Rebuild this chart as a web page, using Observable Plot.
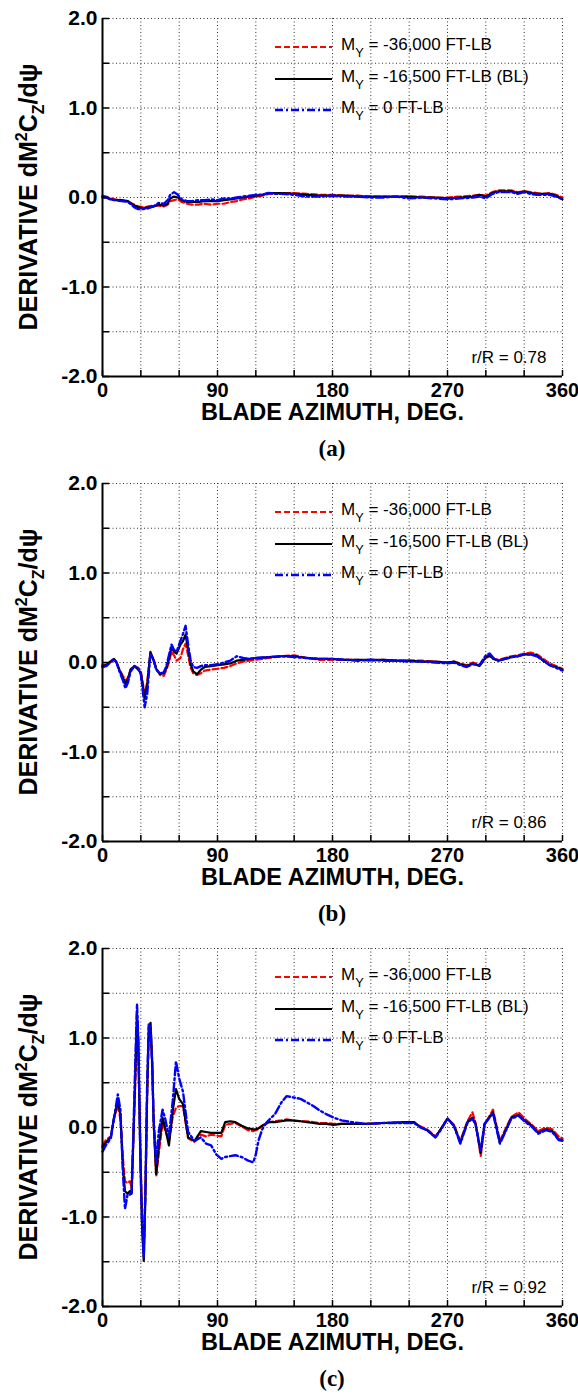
<!DOCTYPE html>
<html><head><meta charset="utf-8">
<script src="https://cdn.jsdelivr.net/npm/d3@7"></script>
<script src="https://cdn.jsdelivr.net/npm/@observablehq/plot@0.6"></script>
<style>
body{margin:0;background:#fff;}
#root{width:578px;}
.cap{width:460px;margin-left:102px;height:33px;box-sizing:border-box;padding-top:4px;line-height:32px;text-align:center;font:bold 23px "Liberation Serif","Times New Roman",serif;color:#000;}
svg{display:block}
</style></head><body><div id="root"></div>
<script>
// ---- axis ticks ----
const xGridTicks = [0,30,60,90,120,150,180,210,240,270,300,330,360];
const xLabelTicks = [0,90,180,270,360];
const yGridTicks = [-2,-1.5,-1,-0.5,0,0.5,1,1.5,2];
const yLabelTicks = [-2,-1,0,1,2];
const seriesNames = ["M_Y = -36,000 FT-LB","M_Y = -16,500 FT-LB (BL)","M_Y = 0 FT-LB"];
const xTitle = "BLADE AZIMUTH, DEG.";
const captions = ["(a)","(b)","(c)"];
const radii = ["r/R = 0.78","r/R = 0.86","r/R = 0.92"];

// ---- panel (a) r/R = 0.78 ----
const azA = [0,3,6,10,15,20,25,28,32,36,40,44,48,51,53,56,59,62,66,70,75,80,85,90,95,100,105,110,115,120,125,130,135,140,150,160,170,180,190,200,210,220,230,240,250,260,270,280,290,295,300,305,310,315,320,325,330,335,340,345,350,355,360];
const aRed = [0.02,0.01,-0.01,-0.02,-0.03,-0.05,-0.08,-0.10,-0.11,-0.10,-0.09,-0.09,-0.10,-0.08,-0.04,-0.03,-0.02,-0.05,-0.07,-0.08,-0.08,-0.07,-0.08,-0.07,-0.07,-0.05,-0.04,-0.02,-0.01,0.01,0.02,0.04,0.05,0.05,0.05,0.04,0.03,0.03,0.02,0.02,0.01,0.01,0.01,0.01,0.01,0.0,0.0,0.01,0.02,0.03,0.02,0.06,0.08,0.08,0.08,0.06,0.07,0.06,0.05,0.04,0.05,0.03,0.0];
const aBlack = [0.01,0.0,-0.02,-0.03,-0.03,-0.04,-0.09,-0.11,-0.12,-0.11,-0.10,-0.08,-0.09,-0.07,-0.01,0.01,0.0,-0.03,-0.05,-0.05,-0.05,-0.04,-0.04,-0.04,-0.03,-0.02,-0.01,0.0,0.01,0.02,0.03,0.05,0.05,0.05,0.04,0.03,0.02,0.02,0.02,0.01,0.01,0.01,0.01,0.01,0.0,0.0,-0.01,0.0,0.01,0.03,0.01,0.05,0.07,0.07,0.07,0.05,0.07,0.05,0.04,0.04,0.04,0.02,-0.02];
const aBlue = [0.0,0.0,-0.02,-0.03,-0.04,-0.05,-0.11,-0.13,-0.13,-0.12,-0.10,-0.06,-0.07,-0.03,0.03,0.06,0.03,-0.02,-0.04,-0.04,-0.03,-0.03,-0.02,-0.03,-0.01,-0.01,0.0,0.01,0.02,0.03,0.03,0.05,0.04,0.04,0.03,0.01,0.01,0.02,0.01,0.01,0.0,0.0,0.01,-0.01,0.0,-0.01,-0.02,-0.01,0.0,0.01,-0.01,0.04,0.06,0.06,0.06,0.04,0.06,0.04,0.03,0.03,0.03,0.01,-0.02];

// ---- panel (b) r/R = 0.86 ----
const azB = [0,3,6,9,11,13,16,18,20,22,25,28,30,33,35,37.5,40,42,45,48,50,52,54,56,58,61,63,65,67,69,71,74,77,80,85,90,95,100,105,110,115,120,130,140,150,160,170,180,190,200,210,220,230,240,250,260,270,275,280,285,290,295,300,303,306,310,315,320,325,330,335,340,345,350,355,360];
const bRed = [-0.03,-0.02,0.0,0.03,0.0,-0.07,-0.15,-0.20,-0.17,-0.08,-0.04,-0.06,-0.10,-0.35,-0.22,0.10,0.03,-0.06,-0.14,-0.15,-0.08,0.0,0.12,0.08,0.02,0.05,0.15,0.21,0.08,-0.06,-0.12,-0.14,-0.12,-0.09,-0.08,-0.07,-0.06,-0.04,-0.01,0.01,0.02,0.03,0.05,0.07,0.08,0.05,0.03,0.03,0.03,0.03,0.02,0.03,0.02,0.02,0.02,0.01,0.0,0.01,-0.01,-0.03,0.0,-0.03,0.05,0.07,0.04,0.03,0.05,0.07,0.08,0.10,0.11,0.09,0.04,-0.01,-0.04,-0.07];
const bBlack = [-0.04,-0.03,0.01,0.04,0.0,-0.08,-0.17,-0.24,-0.18,-0.08,-0.04,-0.08,-0.12,-0.40,-0.25,0.12,0.02,-0.07,-0.13,-0.12,-0.06,0.04,0.17,0.12,0.10,0.20,0.24,0.31,0.15,-0.02,-0.10,-0.13,-0.08,-0.05,-0.04,-0.03,-0.02,-0.01,0.02,0.03,0.04,0.05,0.06,0.07,0.07,0.05,0.04,0.04,0.03,0.03,0.03,0.03,0.02,0.02,0.01,0.01,0.0,0.01,-0.02,-0.04,-0.01,-0.04,0.06,0.08,0.04,0.02,0.04,0.06,0.07,0.09,0.09,0.08,0.02,-0.03,-0.05,-0.08];
const bBlue = [-0.05,-0.04,0.0,0.04,0.0,-0.09,-0.20,-0.29,-0.22,-0.10,-0.04,-0.07,-0.13,-0.50,-0.35,0.10,0.03,-0.08,-0.12,-0.11,-0.04,0.08,0.20,0.14,0.12,0.24,0.32,0.41,0.20,0.02,-0.05,-0.06,-0.04,-0.03,-0.03,-0.02,0.0,0.02,0.07,0.05,0.04,0.05,0.06,0.07,0.06,0.05,0.04,0.04,0.03,0.02,0.03,0.02,0.02,0.01,0.01,0.0,-0.01,0.0,-0.03,-0.05,-0.02,-0.03,0.08,0.10,0.05,0.02,0.04,0.06,0.07,0.09,0.09,0.07,0.02,-0.03,-0.06,-0.09];

// ---- panel (c) r/R = 0.92 ----
const azC = [0,2.6,6.5,9,12,14,16,17.6,19.6,21.5,22.8,24,25.6,27,28,29.7,31,32.3,33.6,34.9,36.2,37.6,38.9,40,42,44,47,49,52,55,57.5,60,63,67,72,77,81,85,89,93,96,100,104,109,114,118,120,122,125,128,130,135,140,144,148,155,160,165,170,175,181,187,195,207,220,238,244,249,254,260.6,264.6,270,275,280,285.6,289.5,292,296,299,305.6,311,314.6,320,325.7,331,336,341,347,352,357,360];
const cRed = [-0.20,-0.14,-0.10,0.10,0.25,0.10,-0.35,-0.60,-0.62,-0.60,-0.68,-0.20,0.45,1.05,0.90,-0.30,-1.00,-1.40,-0.70,0.30,1.00,1.10,0.70,0.05,-0.55,-0.30,0.05,-0.03,-0.15,0.12,0.22,0.24,0.24,-0.12,-0.16,-0.08,-0.10,-0.08,-0.09,-0.10,0.03,0.04,0.05,0.01,-0.03,-0.04,-0.03,-0.02,0.02,0.05,0.06,0.07,0.08,0.09,0.08,0.07,0.07,0.06,0.05,0.05,0.04,0.04,0.04,0.04,0.05,0.06,0.05,0.01,-0.02,-0.10,-0.02,0.10,0.03,-0.15,0.07,0.17,0.05,-0.32,0.03,0.20,-0.15,-0.04,0.12,0.17,0.09,0.03,-0.04,0.0,-0.02,-0.10,-0.12];
const cBlack = [-0.22,-0.17,-0.11,0.11,0.30,0.15,-0.45,-0.71,-0.74,-0.71,-0.74,-0.19,0.56,1.27,0.97,-0.37,-1.12,-1.49,-0.74,0.37,1.12,1.17,0.74,0.07,-0.52,-0.22,0.11,0.0,-0.20,0.19,0.43,0.32,0.26,-0.11,-0.15,-0.04,-0.05,-0.06,-0.06,-0.06,0.06,0.07,0.06,0.02,-0.01,-0.02,-0.02,-0.01,0.02,0.04,0.06,0.06,0.07,0.08,0.08,0.07,0.06,0.05,0.04,0.04,0.03,0.04,0.04,0.04,0.05,0.06,0.06,0.0,-0.03,-0.11,-0.02,0.10,0.02,-0.17,0.06,0.11,0.04,-0.28,0.04,0.17,-0.17,-0.06,0.11,0.14,0.07,0.02,-0.06,-0.02,-0.04,-0.13,-0.14];
const cBlue = [-0.27,-0.20,-0.12,0.10,0.37,0.20,-0.50,-0.91,-0.75,-0.75,-0.72,-0.15,0.70,1.38,1.00,-0.40,-1.10,-1.45,-0.70,0.45,1.15,1.12,0.70,0.10,-0.40,-0.05,0.20,0.10,-0.10,0.30,0.74,0.55,0.40,-0.05,-0.15,-0.11,-0.18,-0.20,-0.30,-0.35,-0.33,-0.32,-0.31,-0.33,-0.37,-0.39,-0.30,-0.15,-0.02,0.05,0.08,0.15,0.28,0.35,0.34,0.32,0.28,0.24,0.19,0.15,0.11,0.08,0.06,0.04,0.05,0.05,0.05,0.0,-0.03,-0.11,-0.03,0.10,0.02,-0.18,0.05,0.10,0.03,-0.26,0.04,0.16,-0.18,-0.07,0.10,0.13,0.06,0.01,-0.07,-0.03,-0.05,-0.14,-0.15];

const FONT = '"Liberation Sans", Arial, Helvetica, sans-serif';
const styles = [
  {stroke: "#ff0000", strokeWidth: 2.2, strokeDasharray: "6,3"},
  {stroke: "#000000", strokeWidth: 2.2, strokeDasharray: null},
  {stroke: "#0000ff", strokeWidth: 2.4, strokeDasharray: "8,3,2,3"}
];

function addRich(sel, label, size) {
  const m = label.split("_");
  sel.append("tspan").text(m[0]);
  sel.append("tspan").attr("font-size", size * 0.75).attr("dy", size * 0.4).text(m[1][0]);
  sel.append("tspan").attr("dy", -size * 0.4).text(m[1].slice(1));
}

function panel(az, vals, rR, cap) {
  const data = vals.map(v => az.map((a, i) => ({az: a, v: v[i]})));
  const plot = Plot.plot({
    width: 578, height: 432,
    marginLeft: 102, marginRight: 16, marginTop: 18, marginBottom: 56,
    style: {background: "white", fontFamily: FONT, overflow: "visible", color: "black"},
    x: {domain: [0, 360]},
    y: {domain: [-2, 2]},
    marks: [
      Plot.gridX(xGridTicks, {stroke: "#333", strokeOpacity: 1, strokeWidth: 1, strokeDasharray: "1,2.5"}),
      Plot.gridY(yGridTicks, {stroke: "#333", strokeOpacity: 1, strokeWidth: 1, strokeDasharray: "1,2.5"}),
      ...data.map((d, k) => Plot.line(d, {x: "az", y: "v", ...styles[k], strokeLinejoin: "round"})),
      Plot.ruleX([0], {stroke: "black", strokeWidth: 2}),
      Plot.ruleY([-2], {stroke: "black", strokeWidth: 2}),
      Plot.axisX(xGridTicks, {tickSize: -6, tickFormat: () => "", label: null, strokeWidth: 1.5}),
      Plot.axisY(yGridTicks, {tickSize: -7, tickFormat: () => "", label: null, strokeWidth: 1.5}),
      Plot.axisX(xLabelTicks, {tickSize: 0, tickPadding: 6, tickFormat: d => String(d), label: null, fontSize: 20, fontWeight: "bold"}),
      Plot.axisY(yLabelTicks, {tickSize: 0, tickPadding: 5, tickFormat: d => d.toFixed(1), label: null, fontSize: 21, fontWeight: "bold"}),
      Plot.text([rR], {frameAnchor: "bottom-right", dx: -16, dy: -14, textAnchor: "end", fontSize: 17}),
      Plot.text([xTitle], {frameAnchor: "bottom", dy: 43, fontSize: 23.5, fontWeight: "bold"})
    ]
  });
  const svg = d3.select(plot);
  const yt = svg.append("text")
    .attr("transform", `translate(28,${18 + 179}) rotate(-90)`)
    .attr("text-anchor", "middle").attr("dy", "0.35em")
    .attr("font-size", 25).attr("font-weight", "bold").attr("font-family", FONT).attr("fill", "black");
  yt.append("tspan").text("DERIVATIVE dM");
  yt.append("tspan").attr("font-size", 16).attr("dy", -10).text("2");
  yt.append("tspan").attr("dy", 10).text("C");
  yt.append("tspan").attr("font-size", 16).attr("dy", 7).text("Z");
  yt.append("tspan").attr("dy", -7).text("/d\u03C8");
  const rows = [47, 79, 110];
  seriesNames.forEach((name, k) => {
    const g = svg.append("g");
    g.append("line").attr("x1", 275).attr("x2", 332).attr("y1", rows[k]).attr("y2", rows[k])
      .attr("stroke", styles[k].stroke).attr("stroke-width", styles[k].strokeWidth)
      .attr("stroke-dasharray", styles[k].strokeDasharray);
    const t = g.append("text").attr("x", 341).attr("y", rows[k] + 3)
      .attr("text-anchor", "start")
      .attr("font-size", 17).attr("font-family", FONT).attr("fill", "black");
    addRich(t, name, 17);
  });
  const wrap = document.createElement("div");
  wrap.appendChild(plot);
  const c = document.createElement("div");
  c.className = "cap"; c.textContent = cap;
  wrap.appendChild(c);
  document.getElementById("root").appendChild(wrap);
}

panel(azA, [aRed, aBlack, aBlue], radii[0], captions[0]);
panel(azB, [bRed, bBlack, bBlue], radii[1], captions[1]);
panel(azC, [cRed, cBlack, cBlue], radii[2], captions[2]);
</script>
</body></html>
